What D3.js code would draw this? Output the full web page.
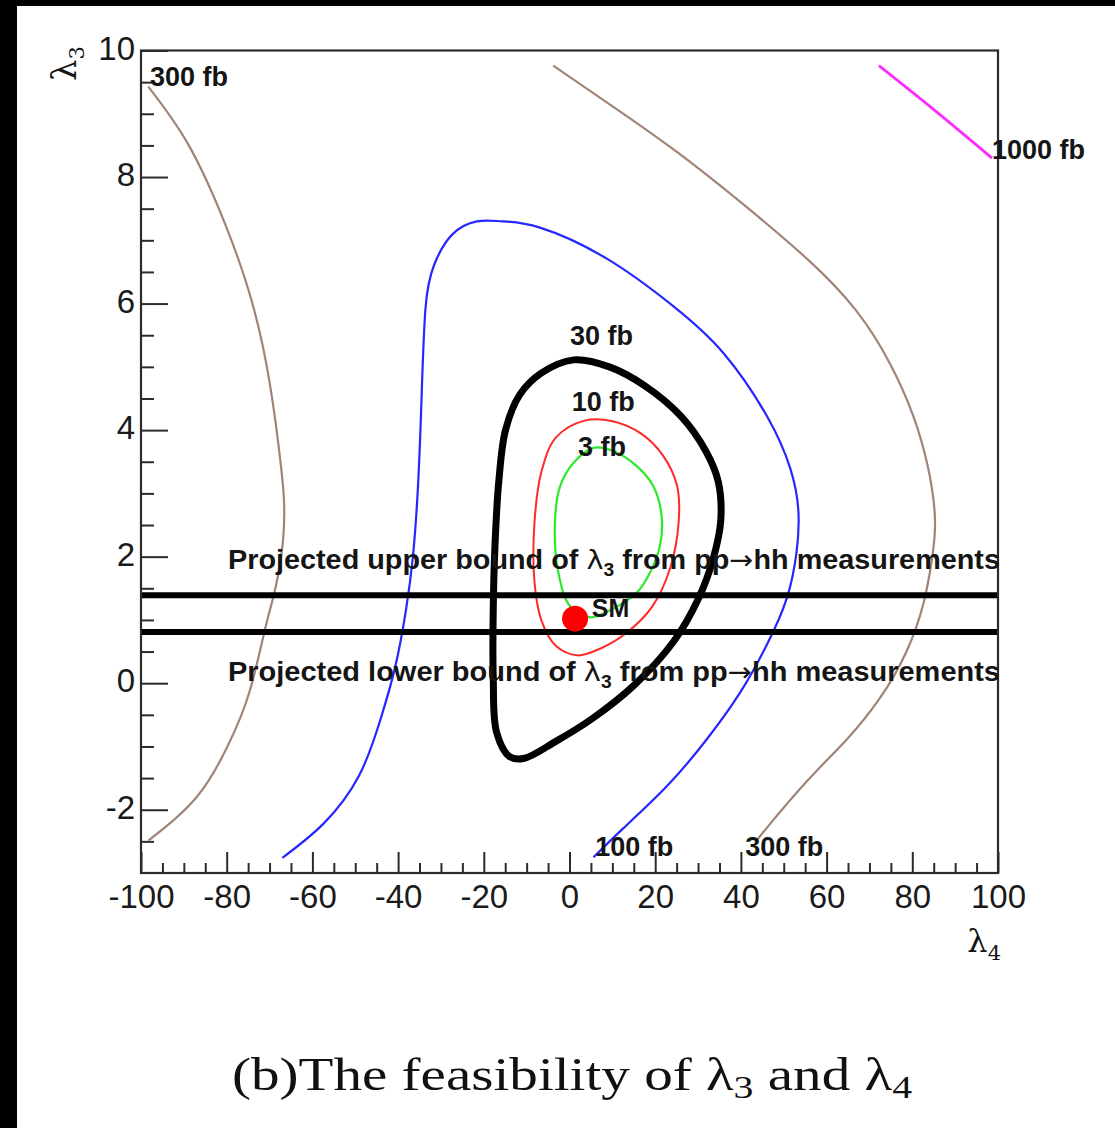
<!DOCTYPE html>
<html>
<head>
<meta charset="utf-8">
<script src="https://cdn.jsdelivr.net/npm/d3@7"></script>
<style>
  html, body { margin: 0; padding: 0; background: #fff; }
  svg { display: block; }
</style>
</head>
<body>
<svg id="chart" width="1115" height="1128"></svg>
<script>
// ---- axes ----
const xDomain = [-100, 100];
const yDomain = [-3, 10];
const xMajorTicks = [-100, -80, -60, -40, -20, 0, 20, 40, 60, 80, 100];
const yMajorTicks = [-2, 0, 2, 4, 6, 8, 10];

// ---- cross-section contours, points as [lambda4, lambda3] ----
const contour300Left = [
  [-98.3, 9.43], [-89.0, 8.52], [-80.5, 7.28], [-74.2, 6.05], [-69.9, 4.72],
  [-67.3, 3.41], [-66.6, 2.83], [-66.8, 2.30], [-67.9, 1.75], [-69.2, 1.34],
  [-71.1, 0.84], [-74.7, -0.14], [-79.6, -0.97], [-87.0, -1.80], [-98.3, -2.49]
];
const contour100 = [
  [-67.0, -2.76], [-57.4, -2.22], [-49.1, -1.46], [-44.1, -0.57], [-40.7, 0.25],
  [-38.2, 1.14], [-36.5, 2.03], [-35.3, 3.19], [-34.5, 4.56], [-33.6, 5.93],
  [-31.6, 6.61], [-27.4, 7.09], [-21.6, 7.30], [-15.8, 7.30], [-6.9, 7.20],
  [8.7, 6.71], [24.2, 5.96], [35.9, 5.22], [46.0, 4.23], [51.5, 3.40],
  [53.4, 2.74], [53.0, 2.08], [50.7, 1.34], [46.0, 0.60], [39.8, -0.15],
  [32.0, -0.89], [22.7, -1.63], [12.6, -2.29], [5.6, -2.75]
];
const contour300Right = [
  [-3.8, 9.76], [8.7, 9.18], [24.2, 8.44], [39.8, 7.61], [55.4, 6.71],
  [67.0, 5.88], [74.8, 5.05], [80.2, 4.23], [83.7, 3.40], [85.3, 2.58],
  [84.5, 1.92], [82.6, 1.26], [78.7, 0.51], [72.5, -0.23], [64.7, -0.89],
  [55.4, -1.55], [46.0, -2.29], [43.8, -2.48]
];
const contour1000 = [[72.2, 9.76], [85.3, 9.05], [98.6, 8.30]];
const contour30 = [
  [1.0, 5.11], [-6.6, 4.90], [-11.6, 4.56], [-14.9, 4.01], [-16.5, 3.19],
  [-17.4, 2.16], [-17.8, 1.14], [-17.8, 0.11], [-17.0, -0.78], [-14.0, -1.16],
  [-10.7, -1.19], [-3.2, -0.92], [5.1, -0.57], [15.1, -0.03], [24.3, 0.66],
  [30.1, 1.34], [33.5, 1.96], [35.3, 2.57], [34.7, 3.19], [31.8, 3.67],
  [26.0, 4.22], [17.6, 4.70], [9.3, 5.00]
];
const contour10 = [
  [3.5, 4.15], [-3.2, 3.88], [-6.6, 3.33], [-8.2, 2.51], [-8.2, 1.62],
  [-6.6, 1.00], [-3.2, 0.59], [1.8, 0.44], [7.6, 0.56], [13.4, 0.80],
  [19.3, 1.21], [23.5, 1.82], [25.5, 2.57], [25.1, 3.12], [21.8, 3.60],
  [16.8, 3.94], [10.1, 4.14]
];
const contour3 = [
  [0.1, 1.22], [-2.6, 1.75], [-3.4, 2.54], [-2.2, 3.11], [0.9, 3.48],
  [5.6, 3.72], [10.2, 3.67], [15.7, 3.43], [19.6, 3.11], [21.5, 2.64],
  [21.1, 2.17], [18.8, 1.75], [15.7, 1.43], [9.9, 1.17], [4.8, 1.04]
];

// ---- projected lambda3 bounds from pp -> hh ----
const lambda3Bounds = [1.39, 0.81];

// ---- Standard Model point ----
const smPoint = [1.3, 1.02];

// ---- contour labels: text, lambda4, lambda3 of the baseline start ----
const fbLabelText = ["300 fb", "1000 fb", "30 fb", "10 fb", "3 fb", "100 fb", "300 fb", "SM"];
const fbLabelL4 = [-97.9, 98.6, 0.1, 0.5, 2.0, 6.0, 41.0, 5.2];
const fbLabelL3 = [9.44, 8.29, 5.35, 4.30, 3.59, -2.73, -2.73, 1.04];

const boundLabelWord = ["upper", "lower"];
const boundLabelL3 = [1.81, 0.04];

const svg = d3.select("#chart");
const W = 1115, H = 1128;
const plot = { left: 141, right: 998, top: 50.5, bottom: 873 };

const x = d3.scaleLinear().domain(xDomain).range([plot.left, plot.right]);
const y = d3.scaleLinear().domain(yDomain).range([plot.bottom, plot.top]);

// page background with the dark strips at the left and top edges
svg.append("rect").attr("width", W).attr("height", H).attr("fill", "#fff");
svg.append("rect").attr("x", 0).attr("y", 0).attr("width", W).attr("height", 6).attr("fill", "#000");
svg.append("rect").attr("x", 0).attr("y", 0).attr("width", 17).attr("height", H).attr("fill", "#000");

svg.append("defs").append("clipPath").attr("id", "plotClip")
  .append("rect")
  .attr("x", plot.left).attr("y", plot.top)
  .attr("width", plot.right - plot.left).attr("height", plot.bottom - plot.top);

const axisColor = "#2b2b2b";
const tickFont = "'Liberation Sans', Arial, Helvetica, sans-serif";
const plainNumber = d => String(d);

// ---- x axis: major and minor ticks pointing inward ----
const xMinor = d3.range(-100, 101, 5).filter(v => v % 20 !== 0);
const gxMinor = svg.append("g").attr("transform", `translate(0,${plot.bottom})`)
  .call(d3.axisBottom(x).tickValues(xMinor).tickSize(-10).tickFormat(""));
const gx = svg.append("g").attr("transform", `translate(0,${plot.bottom})`)
  .call(d3.axisBottom(x).tickValues(xMajorTicks).tickSize(-21).tickPadding(12).tickFormat(plainNumber));

// ---- y axis ----
const yMinor = d3.range(-3, 10.01, 0.5).filter(v => v % 2 !== 0 && v > -3);
const gyMinor = svg.append("g").attr("transform", `translate(${plot.left},0)`)
  .call(d3.axisLeft(y).tickValues(yMinor).tickSize(-13).tickFormat(""));
const gy = svg.append("g").attr("transform", `translate(${plot.left},0)`)
  .call(d3.axisLeft(y).tickValues(yMajorTicks).tickSize(-27).tickPadding(6).tickFormat(plainNumber));

[gxMinor, gx, gyMinor, gy].forEach(g => {
  g.select(".domain").remove();
  g.selectAll(".tick line").attr("stroke", axisColor).attr("stroke-width", 2);
  g.selectAll(".tick text")
    .attr("fill", "#1a1a1a")
    .style("font-family", tickFont)
    .style("font-size", "33px");
});
gy.selectAll(".tick text").attr("dy", "0.26em");

// ---- contour lines ----
const lineOpen = d3.line().x(d => x(d[0])).y(d => y(d[1])).curve(d3.curveNatural);
const lineClosed = d3.line().x(d => x(d[0])).y(d => y(d[1])).curve(d3.curveCatmullRomClosed.alpha(0.5));

const gc = svg.append("g").attr("clip-path", "url(#plotClip)");
const contourStyle = [
  { data: contour300Left, closed: false, color: "#a08478", width: 2.2 },
  { data: contour300Right, closed: false, color: "#a08478", width: 2.2 },
  { data: contour100, closed: false, color: "#2626ff", width: 2.2 },
  { data: contour1000, closed: false, color: "#ff2cff", width: 2.8 },
  { data: contour10, closed: true, color: "#ff2a2a", width: 2 },
  { data: contour3, closed: true, color: "#2ee82e", width: 2.2 },
  { data: contour30, closed: true, color: "#000", width: 7 }
];
contourStyle.forEach(c => {
  gc.append("path")
    .attr("d", (c.closed ? lineClosed : lineOpen)(c.data))
    .attr("fill", "none")
    .attr("stroke", c.color)
    .attr("stroke-width", c.width)
    .attr("stroke-linejoin", "round");
});

// ---- lambda3 bound lines ----
gc.selectAll("line.bound").data(lambda3Bounds).enter().append("line")
  .attr("class", "bound")
  .attr("x1", x(xDomain[0])).attr("x2", x(xDomain[1]))
  .attr("y1", d => y(d)).attr("y2", d => y(d))
  .attr("stroke", "#000").attr("stroke-width", 6);

// ---- SM point ----
svg.append("circle")
  .attr("cx", x(smPoint[0])).attr("cy", y(smPoint[1]))
  .attr("r", 13).attr("fill", "#ff0000");

// ---- frame ----
svg.append("rect")
  .attr("x", plot.left).attr("y", plot.top)
  .attr("width", plot.right - plot.left).attr("height", plot.bottom - plot.top)
  .attr("fill", "none").attr("stroke", axisColor).attr("stroke-width", 2.2);

// ---- contour labels ----
const labelFont = "'Liberation Sans', Arial, Helvetica, sans-serif";
svg.append("g").selectAll("text").data(fbLabelText).enter().append("text")
  .attr("x", (d, i) => x(fbLabelL4[i]))
  .attr("y", (d, i) => y(fbLabelL3[i]))
  .attr("fill", "#151515")
  .style("font-family", labelFont)
  .style("font-weight", "bold")
  .style("font-size", d => (d === "SM" ? "25px" : "27px"))
  .text(d => d);

// ---- bound labels ----
boundLabelWord.forEach((w, i) => {
  const t = svg.append("text")
    .attr("x", x(-79.7)).attr("y", y(boundLabelL3[i]))
    .attr("fill", "#151515")
    .attr("textLength", 772).attr("lengthAdjust", "spacingAndGlyphs")
    .style("font-family", labelFont)
    .style("font-weight", "bold")
    .style("font-size", "27px");
  t.append("tspan").text(`Projected ${w} bound of `);
  t.append("tspan").style("font-family", "'DejaVu Sans', sans-serif").style("font-weight", "normal").text("λ");
  t.append("tspan").attr("dy", 7).style("font-size", "18px").text("3");
  t.append("tspan").attr("dy", -7).text(" from pp");
  t.append("tspan").style("font-family", "'DejaVu Sans', sans-serif").style("font-weight", "normal").text("→");
  t.append("tspan").text("hh measurements");
});

// ---- axis titles ----
const yTitle = svg.append("text")
  .attr("transform", "translate(76,46) rotate(-90)")
  .attr("text-anchor", "end")
  .attr("fill", "#151515")
  .style("font-family", "'DejaVu Serif', serif")
  .style("font-size", "34px");
yTitle.append("tspan").text("λ");
yTitle.append("tspan").attr("dy", 8).style("font-size", "21px").text("3");

const xTitle = svg.append("text")
  .attr("x", 1001).attr("y", 952)
  .attr("text-anchor", "end")
  .attr("fill", "#151515")
  .style("font-family", "'DejaVu Serif', serif")
  .style("font-size", "32px");
xTitle.append("tspan").text("λ");
xTitle.append("tspan").attr("dy", 8).style("font-size", "21px").text("4");

// ---- caption ----
const cap = svg.append("text")
  .attr("x", 232).attr("y", 1090)
  .attr("fill", "#111")
  .attr("textLength", 680).attr("lengthAdjust", "spacingAndGlyphs")
  .style("font-family", "'Liberation Serif', 'DejaVu Serif', serif")
  .style("font-size", "46px");
cap.append("tspan").text("(b)The feasibility of λ");
cap.append("tspan").attr("dy", 8).style("font-size", "32px").text("3");
cap.append("tspan").attr("dy", -8).text(" and λ");
cap.append("tspan").attr("dy", 8).style("font-size", "32px").text("4");
</script>
</body>
</html>
